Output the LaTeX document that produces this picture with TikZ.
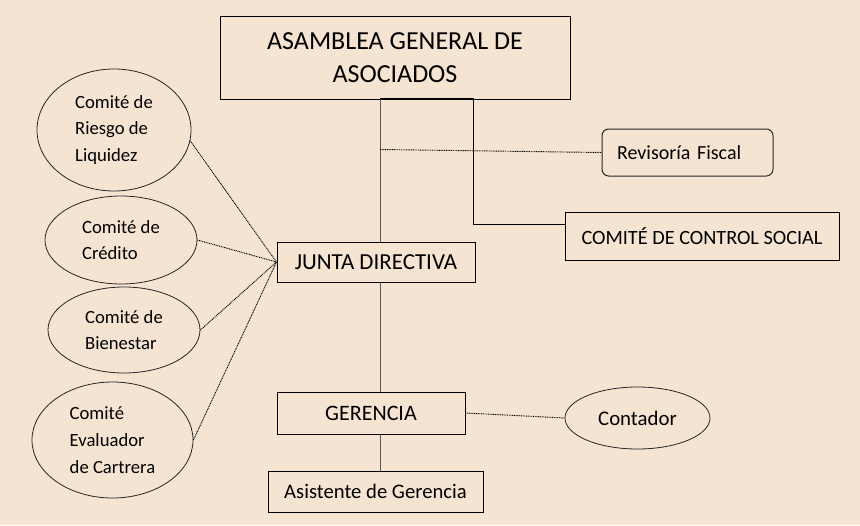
\documentclass[tikz,border=0pt]{standalone}
\usepackage{fontspec}
\setmainfont{Carlito}
\usepackage{xcolor}
\definecolor{colorFondo}{RGB}{245,228,210}
\colorlet{colorLinea}{black!85}
\colorlet{colorTronco}{black!65}
\usetikzlibrary{shapes.geometric}

\begin{document}
\begin{tikzpicture}[x=0.75pt, y=-0.75pt, line width=0.75pt,
  caja/.style={draw=black, rectangle, inner sep=0pt, align=center, font=\fontsize{15}{20}\selectfont},
  comite/.style={draw=colorLinea, ellipse, line width=0.6pt, inner sep=0pt, align=left, font=\fontsize{14}{20}\selectfont},
  enlace/.style={draw=black, line width=0.7pt, dash pattern=on 0.7pt off 0.6pt},
  tronco/.style={draw=colorTronco}]
\fill[colorFondo] (0,0) rectangle (860,525);
\useasboundingbox (0,0) rectangle (860,525);
% cajas
\node[caja, minimum width=262.5pt, minimum height=62.25pt, font=\fontsize{19.5}{24.75}\selectfont] (asamblea) at (395,57.5) {ASAMBLEA GENERAL DE\\ASOCIADOS};
\node[caja, minimum width=148.5pt, minimum height=30pt, font=\fontsize{17.2}{20}\selectfont] (junta) at (376,262) {JUNTA DIRECTIVA};
\node[caja, minimum width=141pt, minimum height=31.5pt, font=\fontsize{16.5}{20}\selectfont] (gerencia) at (371,413) {GERENCIA};
\node[caja, minimum width=161.25pt, minimum height=30.75pt, font=\fontsize{15.5}{20}\selectfont] (asistente) at (375.5,491.5) {Asistente de Gerencia};
\node[caja, rounded corners=5pt, draw=colorLinea, align=left, text width=105.75pt, inner xsep=11.25pt, minimum height=35.25pt] (revisoria) at (687.5,152.5) {Revisoría Fiscal};
\node[caja, minimum width=205.5pt, minimum height=36pt, font=\fontsize{15.2}{20}\selectfont] (control) at (702,236) {COMITÉ DE CONTROL SOCIAL};
\node[comite, align=center, font=\fontsize{15.6}{20}\selectfont, minimum width=108.75pt, minimum height=46.5pt] (contador) at (637.5,418) {Contador};
% comites
\node[comite, minimum width=115.5pt, minimum height=91.5pt] (liquidez) at (114,130) {Comité de\\Riesgo de\\Liquidez};
\node[comite, minimum width=114pt, minimum height=66pt] (credito) at (121,240) {Comité de\\Crédito};
\node[comite, minimum width=114pt, minimum height=64.5pt] (bienestar) at (124,330) {Comité de\\Bienestar};
\node[comite, minimum width=120.75pt, minimum height=87pt] (cartera) at (112.5,440) {Comité\\Evaluador\\de Cartrera};
% conexiones
\coordinate (tap) at (380,98);
\draw[tronco] (tap) -- (tap |- junta.north);
\draw (tap) -- (473,98) |- ([yshift=9pt]control.west);
\draw[enlace] (tap |- revisoria.west) ++(0,-3) -- (revisoria.west);
\draw[tronco] (tap |- junta.south) -- (tap |- gerencia.north);
\draw[tronco] (tap |- gerencia.south) -- (tap |- asistente.north);
\draw[enlace] (gerencia.east) -- (contador.west);
\draw[enlace] (liquidez.-8) -- (junta.west);
\draw[enlace] (credito.east) -- (junta.west);
\draw[enlace] (bienestar.east) -- (junta.west);
\draw[enlace] (cartera.east) -- (junta.west);
\end{tikzpicture}
\end{document}
